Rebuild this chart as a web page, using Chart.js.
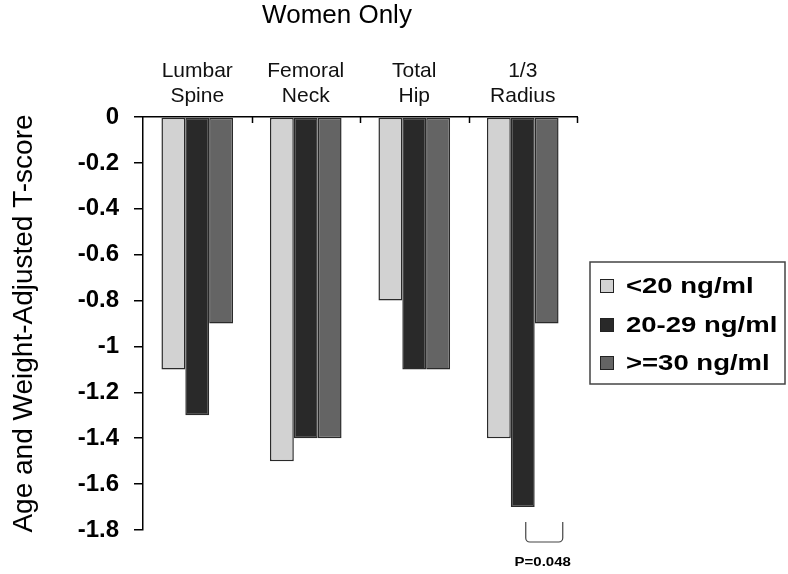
<!DOCTYPE html>
<html>
<head>
<meta charset="utf-8">
<script src="https://cdn.jsdelivr.net/npm/chart.js@4.4.1/dist/chart.umd.min.js"></script>
<style>
  html, body { margin: 0; padding: 0; background: #fff; }
  #wrap { width: 788px; height: 574px; }
</style>
</head>
<body>
<div id="wrap"><canvas id="chart" width="788" height="574"></canvas></div>
<script>
// data
const categories = [["Lumbar", "Spine"], ["Femoral", "Neck"], ["Total", "Hip"], ["1/3", "Radius"]];
const seriesNames = ["<20 ng/ml", "20-29 ng/ml", ">=30 ng/ml"];
const under20 = [-1.1, -1.5, -0.8, -1.4];
const from20to29 = [-1.3, -1.4, -1.1, -1.7];
const over30 = [-0.9, -1.4, -1.1, -0.9];
const yMin = -1.8, yMax = 0, yStep = 0.2;
const chartTitle = "Women Only";
const yTitle = "Age and Weight-Adjusted T-score";
const pNote = "P=0.048";

const colors = ["#d2d2d2", "#292929", "#646464"];
const FONT = "Arial, 'Liberation Sans', sans-serif";

const extras = {
  id: "extras",
  afterDraw(chart) {
    const ctx = chart.ctx;
    const x = chart.scales.x, y = chart.scales.y;
    const ca = chart.chartArea;
    ctx.save();

    // title
    ctx.fillStyle = "#000";
    ctx.font = "26px " + FONT;
    ctx.textAlign = "center";
    ctx.textBaseline = "alphabetic";
    ctx.fillText(chartTitle, 337, 23);

    // small ticks at category boundaries, pointing into the plot
    const half = (x.getPixelForValue(1) - x.getPixelForValue(0)) / 2;
    ctx.strokeStyle = "#000";
    ctx.lineWidth = 1.5;
    for (let i = 0; i < categories.length; i++) {
      const px = Math.round(x.getPixelForValue(i) + half) + 0.5;
      ctx.beginPath();
      ctx.moveTo(px, ca.top);
      ctx.lineTo(px, ca.top + 6);
      ctx.stroke();
    }

    // bracket under the radius group
    const c = x.getPixelForValue(3);
    const bl = c + 3, br = c + 40, bt = y.bottom - 8, bb = y.bottom + 12, r = 4;
    ctx.strokeStyle = "#444";
    ctx.lineWidth = 1.2;
    ctx.beginPath();
    ctx.moveTo(bl, bt);
    ctx.arcTo(bl, bb, bl + r, bb, r);
    ctx.arcTo(br, bb, br, bt, r);
    ctx.lineTo(br, bt);
    ctx.stroke();

    ctx.fillStyle = "#000";
    ctx.font = "bold 12px " + FONT;
    ctx.textAlign = "center";
    ctx.textBaseline = "middle";
    ctx.save();
    ctx.translate(c + 20, y.bottom + 33);
    ctx.scale(1.25, 1);
    ctx.fillText(pNote, 0, 0);
    ctx.restore();

    // legend box
    const lx = 590, ly = 262, lw = 195, lh = 122;
    ctx.strokeStyle = "#444";
    ctx.lineWidth = 1.5;
    ctx.strokeRect(lx, ly, lw, lh);
    const rows = [286, 325, 363];
    chart.data.datasets.forEach((ds, i) => {
      ctx.fillStyle = ds.backgroundColor;
      ctx.fillRect(600, rows[i] - 7, 14, 14);
      ctx.strokeStyle = "#222";
      ctx.lineWidth = 1;
      ctx.strokeRect(600.5, rows[i] - 6.5, 13, 13);
      ctx.fillStyle = "#000";
      ctx.font = "bold 22px " + FONT;
      ctx.textAlign = "left";
      ctx.textBaseline = "middle";
      ctx.save();
      ctx.translate(626, rows[i] + 1);
      ctx.scale(1.25, 1);
      ctx.fillText(ds.label, 0, 0);
      ctx.restore();
    });

    ctx.restore();
  }
};

const makeSet = (i, vals) => ({
  label: seriesNames[i],
  data: vals,
  backgroundColor: colors[i],
  borderColor: "#2a2a2a",
  borderWidth: 1.5,
  borderSkipped: false
});

new Chart(document.getElementById("chart"), {
  type: "bar",
  data: {
    labels: categories,
    datasets: [makeSet(0, under20), makeSet(1, from20to29), makeSet(2, over30)]
  },
  options: {
    responsive: false,
    animation: false,
    layout: { padding: { top: 0, left: 0, right: 211, bottom: 44 } },
    datasets: { bar: { categoryPercentage: 0.66, barPercentage: 1.0 } },
    plugins: { legend: { display: false }, tooltip: { enabled: false }, title: { display: false } },
    scales: {
      x: {
        position: "top",
        grid: { display: false, drawOnChartArea: false, drawTicks: false },
        border: { display: true, color: "#000", width: 1.5 },
        ticks: {
          color: "#111",
          padding: 8,
          font: { family: FONT, size: 21, lineHeight: "25px" },
          maxRotation: 0
        },
        afterFit(scale) { scale.height = 117; }
      },
      y: {
        min: yMin,
        max: yMax,
        grid: { drawOnChartArea: false, drawTicks: true, tickLength: 9, color: "#000", lineWidth: 1.5 },
        border: { display: true, color: "#000", width: 1.5 },
        ticks: {
          stepSize: yStep,
          color: "#000",
          padding: 15,
          font: { family: FONT, size: 24, weight: "bold" },
          callback: v => String(Number(v.toFixed(1)))
        },
        title: {
          display: true,
          text: yTitle,
          color: "#000",
          font: { family: FONT, size: 28 },
          padding: { top: 7, bottom: 0 }
        },
        afterFit(scale) { scale.width = 143; }
      }
    }
  },
  plugins: [extras]
});
</script>
</body>
</html>
